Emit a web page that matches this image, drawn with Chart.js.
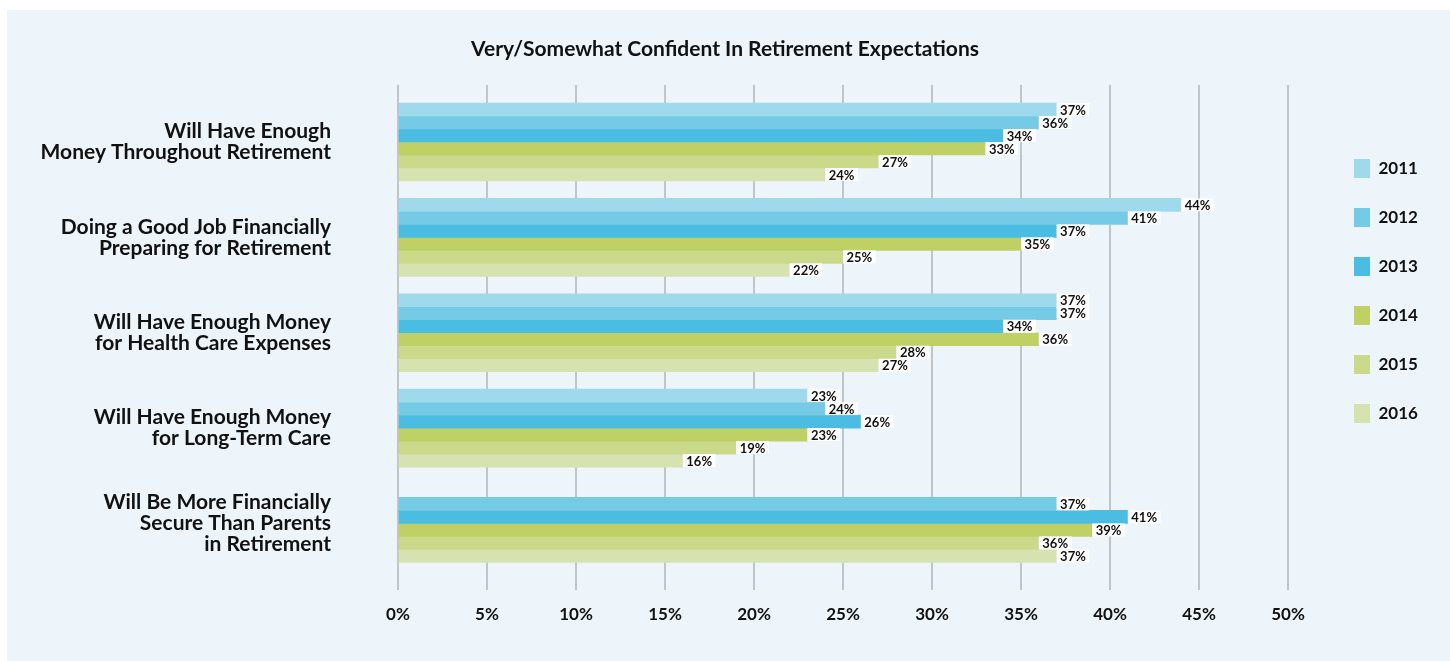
<!DOCTYPE html>
<html>
<head>
<meta charset="utf-8">
<title>Very/Somewhat Confident In Retirement Expectations</title>
<script src="https://cdn.jsdelivr.net/npm/chart.js@4/dist/chart.umd.min.js"></script>
<style>
  html, body { margin: 0; padding: 0; background: #fff; }
  #wrap { position: relative; width: 1450px; height: 661px; }
</style>
</head>
<body>
<div id="wrap"><canvas id="chart"></canvas></div>
<script>
// ─── data ─────────────────────────────────────────────
const TITLE = 'Very/Somewhat Confident In Retirement Expectations';

const CATEGORIES = [
  ['Will Have Enough', 'Money Throughout Retirement'],
  ['Doing a Good Job Financially', 'Preparing for Retirement'],
  ['Will Have Enough Money', 'for Health Care Expenses'],
  ['Will Have Enough Money', 'for Long-Term Care'],
  ['Will Be More Financially', 'Secure Than Parents', 'in Retirement']
];

const YEARS = ['2011', '2012', '2013', '2014', '2015', '2016'];

const V2011 = [37, 44, 37, 23, null];
const V2012 = [36, 41, 37, 24, 37];
const V2013 = [34, 37, 34, 26, 41];
const V2014 = [33, 35, 36, 23, 39];
const V2015 = [27, 25, 28, 19, 36];
const V2016 = [24, 22, 27, 16, 37];

const X_TICKS = [0, 5, 10, 15, 20, 25, 30, 35, 40, 45, 50];

// ─── styles ───────────────────────────────────────────
const COLORS = ['#9fd9ec', '#75cbe6', '#4bbde2', '#bfd064', '#cad98a', '#d6e3b1'];
const PANEL = '#edf4fa';
const INK = '#111111';

Chart.defaults.font.family = 'Lato';
Chart.defaults.font.weight = 'bold';
Chart.defaults.color = INK;

const SERIES = [V2011, V2012, V2013, V2014, V2015, V2016];

// bars as {x: value, y: category index}, missing values skipped
const datasets = SERIES.map((vals, s) => ({
  label: YEARS[s],
  data: vals.map((v, i) => ({ x: v, y: i })).filter(p => p.x !== null),
  backgroundColor: COLORS[s],
  borderWidth: 0,
  barThickness: 13
}));

// light panel behind everything
const panelBg = {
  id: 'panelBg',
  beforeDraw(chart) {
    const { ctx, width, height } = chart;
    ctx.save();
    ctx.fillStyle = PANEL;
    ctx.fillRect(7, 10, width - 7, height - 10);
    ctx.restore();
  }
};

// value labels on white boxes at the end of each bar
const valueLabels = {
  id: 'valueLabels',
  afterDraw(chart) {
    const ctx = chart.ctx;
    ctx.save();
    ctx.font = 'bold 13px Lato';
    ctx.textBaseline = 'middle';
    chart.data.datasets.forEach((ds, di) => {
      const meta = chart.getDatasetMeta(di);
      meta.data.forEach((bar, i) => {
        const txt = ds.data[i].x + '%';
        const w = ctx.measureText(txt).width;
        const h = bar.height;
        ctx.fillStyle = '#ffffff';
        ctx.fillRect(bar.x, bar.y - h / 2, w + 7, h);
        ctx.fillStyle = INK;
        ctx.fillText(txt, bar.x + 3.5, bar.y + 1);
      });
    });
    ctx.restore();
  }
};

// axis labels may hang past the plot edges; don't shrink the plot for them
const noEdgePad = s => {
  s.paddingTop = 0; s.paddingBottom = 0;
  s.paddingLeft = 0; s.paddingRight = 0;
};

// invisible axis used only as horizontal spacing
const spacer = (weight, width) => ({
  type: 'linear',
  position: 'right',
  weight,
  afterFit: s => { noEdgePad(s); s.width = width; },
  ticks: { display: false },
  grid: { display: false, drawTicks: false },
  border: { display: false }
});

new Chart(document.getElementById('chart'), {
  type: 'bar',
  data: { datasets },
  options: {
    indexAxis: 'y',
    responsive: true,
    maintainAspectRatio: false,
    animation: false,
    layout: { padding: 0 },
    scales: {
      x: {
        type: 'linear',
        position: 'bottom',
        min: 0,
        max: 50,
        z: 1,
        afterBuildTicks: s => { s.ticks = X_TICKS.map(v => ({ value: v })); },
        afterFit: s => { noEdgePad(s); s.height = 71; },
        ticks: {
          callback: v => v + '%',
          font: { size: 17, weight: 'bold' },
          color: INK,
          padding: 14
        },
        grid: { color: 'rgba(150,150,150,0.5)', lineWidth: 2, drawTicks: false },
        border: { display: false }
      },
      y: {
        type: 'linear',
        position: 'left',
        reverse: true,
        offset: false,
        min: -0.598,
        max: 4.698,
        afterBuildTicks: s => { s.ticks = CATEGORIES.map((_, i) => ({ value: i })); },
        afterFit: s => { noEdgePad(s); s.width = 398; },
        ticks: {
          autoSkip: false,
          callback: v => CATEGORIES[v],
          font: { size: 21, weight: 'bold', lineHeight: 1.0 },
          color: INK,
          padding: 67
        },
        grid: { display: false, drawTicks: false, offset: false },
        border: { display: false }
      },
      // gap between plot and legend, and margin right of the legend
      yGap: spacer(0, 36),
      yEdge: spacer(2000, 26)
    },
    plugins: {
      title: {
        display: true,
        text: TITLE,
        color: INK,
        font: { size: 21, weight: 'bold' },
        padding: { top: 37, bottom: 22.8 }
      },
      legend: {
        position: 'right',
        align: 'start',
        fullSize: false,
        maxWidth: 100,
        title: { display: true, text: '', padding: 0, font: { size: 10, lineHeight: '44px' } },
        labels: {
          boxWidth: 16,
          boxHeight: 19,
          padding: 30,
          color: INK,
          font: { size: 17, weight: 'bold' }
        }
      },
      tooltip: { enabled: false }
    }
  },
  plugins: [panelBg, valueLabels]
});
</script>
</body>
</html>
